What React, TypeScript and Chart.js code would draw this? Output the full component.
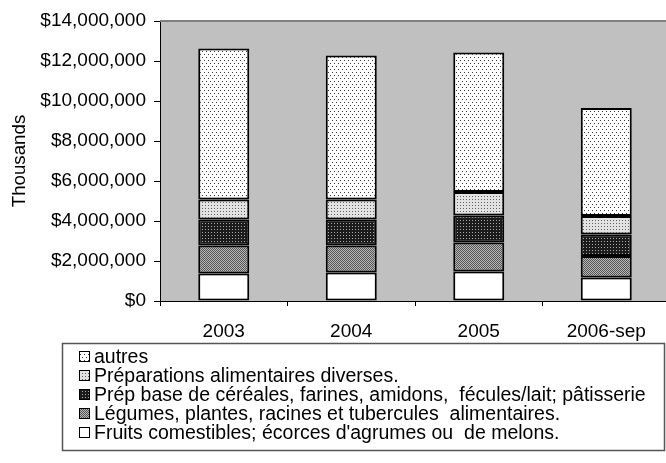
import React, { useEffect, useRef } from 'react';
import { Chart, registerables } from 'chart.js';

Chart.register(...registerables);

const categories = ['2003', '2004', '2005', '2006-sep'];
const seriesLabels = [
  "Fruits comestibles; écorces d'agrumes ou  de melons.",
  'Légumes, plantes, racines et tubercules  alimentaires.',
  'Prép base de céréales, farines, amidons,  fécules/lait; pâtisserie',
  'Préparations alimentaires diverses.',
  'autres',
];
const fruits = [1370000, 1420000, 1470000, 1170000];
const legumes = [1410000, 1360000, 1450000, 1080000];
const prepBase = [1300000, 1300000, 1360000, 1080000];
const preparations = [1000000, 1000000, 1170000, 920000];
const autres = [7540000, 7200000, 6980000, 5400000];
const yTicks = [0, 2000000, 4000000, 6000000, 8000000, 10000000, 12000000, 14000000];
const yTitle = 'Thousands';

const FAMILY = "'Liberation Sans', Arial, sans-serif";
const FONT_SIZE = 19;
const LEGEND_FONT_SIZE = 19.5;

export default function App() {
  const ref = useRef<HTMLCanvasElement>(null);

  useEffect(() => {
    const canvas = ref.current!;
    const ctx = canvas.getContext('2d')!;
    const mk = (w: number, h: number, fn: (g: CanvasRenderingContext2D) => void) => {
      const c = document.createElement('canvas');
      c.width = w;
      c.height = h;
      const g = c.getContext('2d')!;
      fn(g);
      return ctx.createPattern(c, 'repeat')!;
    };
    const patAutres = mk(4, 6, (g) => {
      g.fillStyle = '#ffffff';
      g.fillRect(0, 0, 4, 6);
      g.fillStyle = '#3a3a3a';
      g.fillRect(0, 0, 1, 1);
      g.fillRect(2, 3, 1, 1);
    });
    const patPrep = mk(3, 3, (g) => {
      g.fillStyle = '#e2e2e2';
      g.fillRect(0, 0, 3, 3);
      g.fillStyle = '#606060';
      g.fillRect(1, 1, 1, 1);
    });
    const patBase = mk(3, 3, (g) => {
      g.fillStyle = '#1c1c1c';
      g.fillRect(0, 0, 3, 3);
      g.fillStyle = '#a8a8a8';
      g.fillRect(1, 1, 1, 1);
    });
    const patLeg = mk(2, 2, (g) => {
      g.fillStyle = '#b8b8b8';
      g.fillRect(0, 0, 2, 2);
      g.fillStyle = '#555555';
      g.fillRect(0, 0, 1, 1);
      g.fillRect(1, 1, 1, 1);
    });
    const fills = ['#ffffff', patLeg, patBase, patPrep, patAutres];
    const values = [fruits, legumes, prepBase, preparations, autres];

    const font = { family: FAMILY, size: FONT_SIZE };

    const bgPlugin = {
      id: 'bgPlugin',
      beforeDraw(chart: any) {
        const { ctx: c, chartArea: a } = chart;
        c.save();
        c.fillStyle = '#c0c0c0';
        c.fillRect(a.left, a.top, a.right - a.left, a.bottom - a.top);
        c.restore();
      },
      afterDraw(chart: any) {
        const { ctx: c, chartArea: a } = chart;
        c.save();
        c.strokeStyle = '#808080';
        c.lineWidth = 2;
        c.beginPath();
        c.moveTo(a.left, a.top);
        c.lineTo(a.right, a.top);
        c.stroke();
        c.restore();
      },
    };

    const legendPlugin = {
      id: 'boxLegend',
      afterDraw(chart: any) {
        const c = chart.ctx;
        c.save();
        c.strokeStyle = '#555555';
        c.lineWidth = 1.5;
        c.strokeRect(62.5, 343.5, 602, 107);
        c.font = `${LEGEND_FONT_SIZE}px ${FAMILY}`;
        c.textBaseline = 'alphabetic';
        c.textAlign = 'left';
        const ds = chart.data.datasets;
        for (let i = 0; i < ds.length; i++) {
          const d = ds[ds.length - 1 - i];
          const base = 363 + i * 19;
          c.fillStyle = d.backgroundColor;
          c.fillRect(79, base - 12, 11, 11);
          c.strokeStyle = '#000000';
          c.lineWidth = 1;
          c.strokeRect(79.5, base - 11.5, 10, 10);
          c.fillStyle = '#000000';
          c.fillText(d.label, 94, base);
        }
        c.restore();
      },
    };

    const chart = new Chart(canvas, {
      type: 'bar',
      data: {
        labels: categories,
        datasets: seriesLabels.map((label, i) => ({
          label,
          data: values[i],
          backgroundColor: fills[i] as any,
          borderColor: '#000000',
          borderWidth: 2,
          borderSkipped: false,
          barPercentage: 0.4,
          categoryPercentage: 1,
        })),
      },
      options: {
        animation: false,
        responsive: false,
        layout: { padding: { top: 21, left: 0, right: 0, bottom: 122 } },
        plugins: { legend: { display: false }, tooltip: { enabled: false } },
        scales: {
          x: {
            stacked: true,
            grid: {
              display: true,
              drawOnChartArea: false,
              drawTicks: true,
              tickLength: 5,
              color: '#000000',
              offset: true,
            },
            border: { display: true, color: '#000000', width: 1 },
            ticks: { font, color: '#000000', padding: 14, maxRotation: 0 },
            afterFit: (s: any) => {
              s.height = 40;
            },
          },
          y: {
            stacked: true,
            min: 0,
            max: 14000000,
            afterBuildTicks: (s: any) => {
              s.ticks = yTicks.map((v) => ({ value: v }));
            },
            ticks: {
              font,
              color: '#000000',
              padding: 8,
              callback: (v: any) => '$' + Number(v).toLocaleString('en-US'),
            },
            grid: { drawOnChartArea: false, drawTicks: true, tickLength: 6, color: '#000000' },
            border: { display: true, color: '#000000', width: 1 },
            title: {
              display: true,
              text: yTitle,
              font: { family: FAMILY, size: 18.7 },
              color: '#000000',
              padding: { top: 9, bottom: 0 },
            },
            afterFit: (s: any) => {
              s.width = 160;
            },
          },
        },
      },
      plugins: [bgPlugin, legendPlugin],
    });
    return () => chart.destroy();
  }, []);

  return (
    <div
      style={{
        position: 'fixed',
        left: 0,
        top: 0,
        width: 666,
        height: 463,
        overflow: 'hidden',
        background: '#ffffff',
      }}
    >
      <canvas ref={ref} width={670} height={463} style={{ display: 'block' }} />
    </div>
  );
}
